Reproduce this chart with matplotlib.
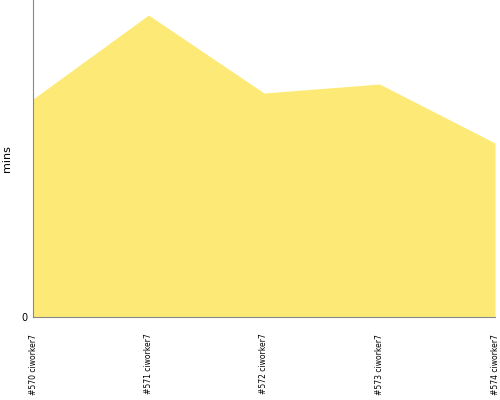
import matplotlib.pyplot as plt

builds = ['#570 ciworker7', '#571 ciworker7', '#572 ciworker7', '#573 ciworker7', '#574 ciworker7']
mins = [21.8, 30.2, 22.4, 23.3, 17.4]

fig = plt.figure(figsize=(5, 4), dpi=100)
ax = fig.add_axes([0.066, 0.2075, 0.924, 0.7925])

x = list(range(len(builds)))
ax.fill_between(x, 0, mins, color='#fdea76', linewidth=0)

ax.set_xlim(0, len(builds) - 1)
ax.set_ylim(0, 31.7)
ax.set_xticks(x)
ax.set_xticklabels(builds, rotation=90, fontsize=5.5)
ax.set_yticks([0])
ax.set_yticklabels(['0'], fontsize=7)
ax.tick_params(axis='x', length=0, pad=12)
ax.tick_params(axis='y', length=0, pad=4)
ax.set_ylabel('mins', fontsize=8)
ax.yaxis.set_label_coords(-0.045, 0.5)

for side in ['top', 'right']:
    ax.spines[side].set_visible(False)
for side in ['left', 'bottom']:
    ax.spines[side].set_color('#888888')
    ax.spines[side].set_linewidth(0.8)

fig.savefig('out.png')
